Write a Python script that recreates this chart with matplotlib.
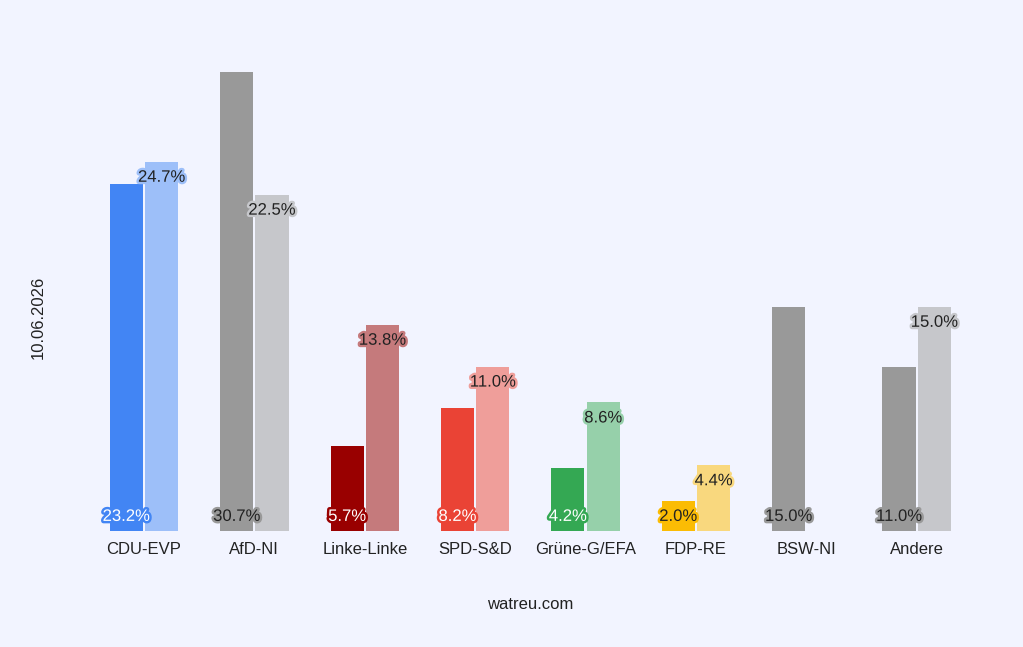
import matplotlib.pyplot as plt
import matplotlib.patheffects as pe

# Datos del gráfico
categorias = ["CDU-EVP", "AfD-NI", "Linke-Linke", "SPD-S&D", "Grüne-G/EFA", "FDP-RE", "BSW-NI", "Andere"]
valores_a = [23.2, 30.7, 5.7, 8.2, 4.2, 2.0, 15.0, 11.0]
valores_b = [24.7, 22.5, 13.8, 11.0, 8.6, 4.4, 0.0, 15.0]
colores_a = ["#4285f4", "#999999", "#990000", "#ea4335", "#34a853", "#fbbc04", "#999999", "#999999"]
colores_b = ["#9dbff9", "#c6c7cb", "#c57a7c", "#ef9e9a", "#96d0aa", "#f9d87e", "#c6c7cb", "#c6c7cb"]
texto_a = ["white", "#222222", "white", "white", "white", "#222222", "#222222", "#222222"]

fondo = "#f2f4ff"
plt.rcParams["font.family"] = ["Liberation Sans", "DejaVu Sans"]

fig = plt.figure(figsize=(10.23, 6.47), dpi=100, facecolor=fondo)
ax = fig.add_axes([0.0868, 0.1793, 0.8632, 0.7094])
ax.set_facecolor(fondo)
ax.set_xlim(-0.5, 7.5)
ax.set_ylim(0, 30.7)

ancho = 0.30
desp = 0.16

for i in range(len(categorias)):
    xa = i - desp
    xb = i + desp
    va = valores_a[i]
    vb = valores_b[i]
    # barra del resultado actual + etiqueta en la base
    if va > 0:
        ax.bar(xa, va, width=ancho, color=colores_a[i], linewidth=0)
        ax.annotate(f"{va:.1f}%", (xa, 0), xytext=(0, 10.5), textcoords="offset points",
                    ha="center", va="center", fontsize=12, color=texto_a[i],
                    path_effects=[pe.withStroke(linewidth=3.5, foreground=colores_a[i])])
    # barra de la encuesta + etiqueta arriba
    if vb > 0:
        ax.bar(xb, vb, width=ancho, color=colores_b[i], linewidth=0)
        ax.annotate(f"{vb:.1f}%", (xb, vb), xytext=(0, -11.2), textcoords="offset points",
                    ha="center", va="center", fontsize=12, color="#222222",
                    path_effects=[pe.withStroke(linewidth=3.5, foreground=colores_b[i])])

ax.set_xticks(range(len(categorias)))
ax.set_xticklabels(categorias, fontsize=12, color="#222222")
ax.tick_params(axis="x", length=0, pad=8)
ax.set_yticks([])
for s in ax.spines.values():
    s.set_visible(False)

fig.text(0.0371, 0.51, "10.06.2026", rotation=90, ha="center", va="center",
         fontsize=12, color="#222222")
fig.text(0.518, 0.066, "watreu.com", ha="center", va="center", fontsize=12, color="#222222")

fig.savefig("out.png", dpi=100, facecolor=fondo)
